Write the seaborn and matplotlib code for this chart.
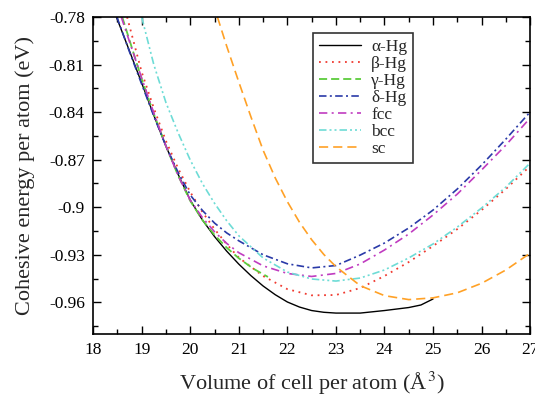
import matplotlib
matplotlib.use("Agg")
import matplotlib.pyplot as plt
import seaborn as sns
from matplotlib.ticker import MultipleLocator, FixedLocator, FixedFormatter

# Cohesive energy vs. volume for the Hg phases (eV / atom, A^3 / atom)
alpha_v = [18.48, 18.75, 19.0, 19.25, 19.5, 19.75, 20.0, 20.25, 20.5, 20.75, 21.0, 21.25, 21.5, 21.75,
           22.0, 22.25, 22.5, 22.75, 23.0, 23.5, 24.0, 24.5, 24.75, 25.0]
alpha_e = [-0.780, -0.8015, -0.8216, -0.8420, -0.8615, -0.8792, -0.8955, -0.9080, -0.9185, -0.9277,
           -0.9359, -0.9432, -0.9497, -0.9552, -0.9598, -0.9630, -0.9652, -0.9663, -0.9668,
           -0.9668, -0.9652, -0.9633, -0.9617, -0.9579]

beta_v = [18.7, 19.0, 19.25, 19.5, 19.75, 20.0, 20.25, 20.5, 20.75, 21.0, 21.5, 22.0, 22.5, 23.0, 23.5,
          24.0, 24.5, 25.0, 25.5, 26.0, 26.5, 27.0]
beta_e = [-0.780, -0.8147, -0.8375, -0.8582, -0.8755, -0.8904, -0.9030, -0.9138, -0.9233, -0.9318,
          -0.9434, -0.9517, -0.9556, -0.9554, -0.9510, -0.9434, -0.9346, -0.9245, -0.9138,
          -0.9018, -0.8885, -0.8740]

gamma_v = [18.6, 19.0, 19.25, 19.5, 19.75, 20.0, 20.25, 20.5, 20.75, 21.0, 21.3, 21.6]
gamma_e = [-0.780, -0.8191, -0.8412, -0.8614, -0.8800, -0.8960, -0.9080, -0.9175, -0.9255, -0.9322,
           -0.9388, -0.9440]

delta_v = [18.49, 18.75, 19.0, 19.25, 19.5, 19.75, 20.0, 20.25, 20.5, 20.75, 21.0, 21.5, 22.0, 22.5,
           23.0, 23.5, 24.0, 24.5, 25.0, 25.5, 26.0, 26.5, 27.0]
delta_e = [-0.780, -0.8020, -0.8223, -0.8425, -0.8614, -0.8780, -0.8923, -0.9020, -0.9100, -0.9162,
           -0.9212, -0.9300, -0.9357, -0.9383, -0.9368, -0.9302, -0.9226, -0.9131, -0.9018,
           -0.8885, -0.8734, -0.8570, -0.8399]

fcc_v = [18.58, 19.0, 19.25, 19.5, 19.75, 20.0, 20.25, 20.5, 20.75, 21.0, 21.5, 22.0, 22.5, 23.0, 23.5,
         24.0, 24.5, 25.0, 25.5, 26.0, 26.5, 27.0]
fcc_e = [-0.780, -0.8185, -0.8405, -0.8614, -0.8800, -0.8955, -0.9065, -0.9155, -0.9228, -0.9287,
         -0.9370, -0.9418, -0.9437, -0.9418, -0.9358, -0.9270, -0.9169, -0.9049, -0.8917,
         -0.8765, -0.8608, -0.8437]

bcc_v = [19.0, 19.25, 19.5, 19.75, 20.0, 20.25, 20.5, 20.75, 21.0, 21.5, 22.0, 22.5, 23.0, 23.5, 24.0,
         24.5, 25.0, 25.5, 26.0, 26.5, 27.0]
bcc_e = [-0.780, -0.8100, -0.8340, -0.8530, -0.8702, -0.8850, -0.8975, -0.9085, -0.9180, -0.9320,
         -0.9409, -0.9453, -0.9466, -0.9447, -0.9396, -0.9320, -0.9232, -0.9125, -0.9005,
         -0.8873, -0.8721]

sc_v = [20.56, 20.75, 21.0, 21.25, 21.5, 21.75, 22.0, 22.25, 22.5, 22.75, 23.0, 23.5, 24.0, 24.5, 25.0,
        25.5, 26.0, 26.5, 27.0]
sc_e = [-0.780, -0.7983, -0.8210, -0.8430, -0.8640, -0.8815, -0.8965, -0.9095, -0.9205, -0.9298,
        -0.9375, -0.9495, -0.9558, -0.9583, -0.9572, -0.9540, -0.9480, -0.9396, -0.9290]

labels = ["α-Hg", "β-Hg", "γ-Hg", "δ-Hg", "fcc", "bcc", "sc"]
y_ticks = [-0.96, -0.93, -0.9, -0.87, -0.84, -0.81, -0.78]
y_tick_labels = ["-0.96", "-0.93", "-0.9", "-0.87", "-0.84", "-0.81", "-0.78"]
x_ticks = [18, 19, 20, 21, 22, 23, 24, 25, 26, 27]

sns.set_theme(style="ticks")
plt.rcParams["font.family"] = ["Liberation Serif", "DejaVu Serif"]
plt.rcParams["mathtext.fontset"] = "stix"
plt.rcParams["axes.unicode_minus"] = False

fig = plt.figure(figsize=(5.35, 4.0), dpi=100)
ax = fig.add_axes([0.174, 0.165, 0.817, 0.7925])

series = [
    (alpha_v, alpha_e, "#000000", "-", 1.0),
    (beta_v, beta_e, "#f03a30", (0, (1, 2.6)), 1.3),
    (gamma_v, gamma_e, "#5ccc3c", (0, (4.5, 2.2)), 1.3),
    (delta_v, delta_e, "#2a3aa8", (0, (4.5, 2.0, 1.2, 2.0)), 1.2),
    (fcc_v, fcc_e, "#c03cc0", (0, (5.0, 2.6, 1.2, 2.6)), 1.2),
    (bcc_v, bcc_e, "#6edcd6", (0, (4.5, 1.8, 1.2, 1.8, 1.2, 1.8)), 1.2),
    (sc_v, sc_e, "#ffa126", (0, (5.5, 3.0)), 1.2),
]
for (xv, yv, col, ls, lw), lab in zip(series, labels):
    sns.lineplot(x=xv, y=yv, ax=ax, color=col, linestyle=ls, linewidth=lw,
                 label=lab, sort=False, estimator=None)

ax.set_xlim(18, 27)
ax.set_ylim(-0.98, -0.78)
ax.xaxis.set_major_locator(FixedLocator(x_ticks))
ax.xaxis.set_minor_locator(MultipleLocator(0.5))
ax.yaxis.set_major_locator(FixedLocator(y_ticks))
ax.yaxis.set_major_formatter(FixedFormatter(y_tick_labels))
ax.yaxis.set_minor_locator(MultipleLocator(0.015))
ax.tick_params(which="both", direction="in", top=True, right=True, width=1.0,
               labelsize=12.5, colors="black")
ax.tick_params(which="major", length=6, pad=6)
ax.tick_params(which="minor", length=3.5)
for sp in ax.spines.values():
    sp.set_linewidth(1.2)
    sp.set_color("black")

ax.set_xlabel("Volume of cell per atom (Å$^{\\,3}$)", fontsize=16, labelpad=8)
ax.set_ylabel("Cohesive energy per atom (eV)", fontsize=16, labelpad=10)

leg = ax.legend(loc="upper left", bbox_to_anchor=(0.503, 0.95), borderaxespad=0,
                fontsize=12.5, frameon=True, fancybox=False, handlelength=2.4,
                labelspacing=0.05, handletextpad=0.6, borderpad=0.35)
leg.get_frame().set_edgecolor("black")
leg.get_frame().set_linewidth(1.2)

fig.savefig("out.png", dpi=100)
